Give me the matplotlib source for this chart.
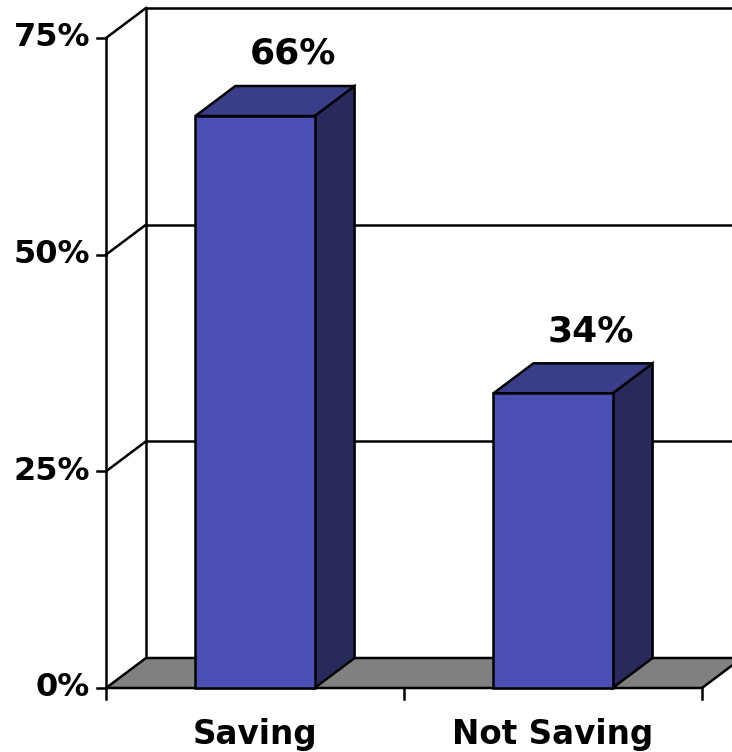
import matplotlib
matplotlib.use("Agg")
import matplotlib.pyplot as plt
from matplotlib.patches import Polygon

categories = ["Saving", "Not Saving"]
values = [66, 34]
y_ticks = [0, 25, 50, 75]
y_tick_labels = ["0%", "25%", "50%", "75%"]
value_labels = ["66%", "34%"]

# style / geometry
W, H, DPI = 732, 752, 100
front_left_px, cat_px = 106, 298.0
base_px, px_per_pct = 688, 650.0 / 75
depth_x = 40 / cat_px          # depth offset in category units
depth_y = 30 / px_per_pct      # depth offset in percent units
bar_w = 0.4
c_front = "#4b4fb4"
c_top = "#3a3d8a"
c_side = "#282a5c"
c_floor = "#808080"
lw = 1.8

fig = plt.figure(figsize=(W / DPI, H / DPI), dpi=DPI)
ax = fig.add_axes([0, 0, 1, 1])
xmin = -0.5 - front_left_px / cat_px
xmax = -0.5 + (W - front_left_px) / cat_px
ymax = base_px / px_per_pct
ymin = -(H - base_px) / px_per_pct
ax.set_xlim(xmin, xmax)
ax.set_ylim(ymin, ymax)
ax.axis("off")

n = len(categories)
x_left, x_right = -0.5, n - 0.5
ytop = y_ticks[-1]

# back wall gridlines and side wall gridlines
for t in y_ticks[1:]:
    ax.plot([x_left + depth_x, xmax + 1], [t + depth_y, t + depth_y], color="black", lw=lw, zorder=1)
    ax.plot([x_left, x_left + depth_x], [t, t + depth_y], color="black", lw=lw, zorder=1)
# back wall left vertical
ax.plot([x_left + depth_x, x_left + depth_x], [depth_y, ytop + depth_y], color="black", lw=lw, zorder=1)
# front left axis
ax.plot([x_left, x_left], [0, ytop], color="black", lw=lw, zorder=5)
# y ticks and labels
tick_len = 9 / cat_px
for t, lab in zip(y_ticks, y_tick_labels):
    ax.plot([x_left - tick_len, x_left], [t, t], color="black", lw=lw, zorder=5)
    ax.text(x_left - 16 / cat_px, t, lab, ha="right", va="center",
            fontsize=23, fontweight="bold", family="DejaVu Sans")

# floor
floor = Polygon([(x_left, 0), (x_right, 0), (x_right + depth_x, depth_y), (x_left + depth_x, depth_y)],
                closed=True, facecolor=c_floor, edgecolor="black", lw=lw, zorder=2)
ax.add_patch(floor)

# x ticks
for xt in [x_left + i for i in range(n + 1)]:
    ax.plot([xt, xt], [0, -11 / px_per_pct], color="black", lw=lw, zorder=5)

# bars
for i, (v, lab) in enumerate(zip(values, value_labels)):
    x0, x1 = i - bar_w / 2, i + bar_w / 2
    side = Polygon([(x1, 0), (x1 + depth_x, depth_y), (x1 + depth_x, v + depth_y), (x1, v)],
                   closed=True, facecolor=c_side, edgecolor="black", lw=lw, zorder=3, joinstyle="miter")
    top = Polygon([(x0, v), (x1, v), (x1 + depth_x, v + depth_y), (x0 + depth_x, v + depth_y)],
                  closed=True, facecolor=c_top, edgecolor="black", lw=lw, zorder=3, joinstyle="miter")
    front = Polygon([(x0, 0), (x1, 0), (x1, v), (x0, v)],
                    closed=True, facecolor=c_front, edgecolor="black", lw=lw, zorder=4, joinstyle="miter")
    for p in (side, top, front):
        ax.add_patch(p)
    ax.text(i + 38 / cat_px, v + depth_y + 32 / px_per_pct, lab,
            ha="center", va="center", fontsize=26, fontweight="bold", family="DejaVu Sans")
    ax.text(i, -56 / px_per_pct, categories[i], ha="center", va="baseline",
            fontsize=23.5, fontweight="bold", family="DejaVu Sans")

fig.savefig("out.png", dpi=DPI)
